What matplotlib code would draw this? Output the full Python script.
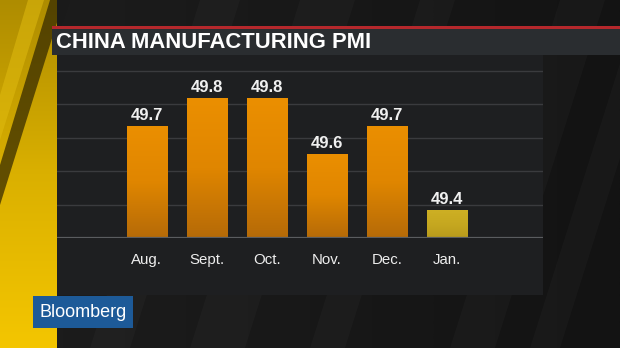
import numpy as np
import matplotlib
matplotlib.use("Agg")
import matplotlib.pyplot as plt
from matplotlib.patches import Rectangle, Polygon
from matplotlib.colors import LinearSegmentedColormap

# ---- data ----
title = "CHINA MANUFACTURING PMI"
months = ["Aug.", "Sept.", "Oct.", "Nov.", "Dec.", "Jan."]
pmi = [49.7, 49.8, 49.8, 49.6, 49.7, 49.4]
highlight = [False, False, False, False, False, True]
brand = "Bloomberg"

W, H = 620, 348
fig = plt.figure(figsize=(W / 100, H / 100), dpi=100)
fig.patch.set_facecolor("#151515")

# ---- background layer in pixel coordinates ----
bg = fig.add_axes([0, 0, 1, 1])
bg.set_xlim(0, W)
bg.set_ylim(H, 0)
bg.axis("off")

# dark backdrop gradient
dark = np.linspace(0, 1, 256).reshape(1, -1)
bg.imshow(dark, extent=[0, W, H, 0], aspect="auto",
          cmap=LinearSegmentedColormap.from_list("d", ["#1d1d1d", "#131313"]), zorder=0)
# subtle diagonal stripes on backdrop
for x0, w in [(200, 40), (300, 55), (420, 35), (560, 45), (640, 30)]:
    bg.add_patch(Polygon([(x0, 0), (x0 + w, 0), (x0 + w - 110, H), (x0 - 110, H)],
                         closed=True, facecolor="#ffffff", alpha=0.022, lw=0, zorder=1))

# yellow side band
ygrad = np.linspace(0, 1, 256).reshape(-1, 1)
bg.imshow(ygrad, extent=[0, 57, H, 0], aspect="auto",
          cmap=LinearSegmentedColormap.from_list("y", ["#ae8c00", "#dab000", "#f4c600"]), zorder=2)
bg.add_patch(Polygon([(28, 0), (44, 0), (0, 140), (0, 95)], closed=True,
                     facecolor="#e0bb10", alpha=0.55, lw=0, zorder=3))
bg.add_patch(Polygon([(50, 0), (64, 0), (0, 205), (0, 165)], closed=True,
                     facecolor="#2e2400", alpha=0.7, lw=0, zorder=3))
bg.add_patch(Polygon([(57, 0), (70, 0), (57, 40)], closed=True,
                     facecolor="#1a1a1a", lw=0, zorder=3))

# chart panel
bg.add_patch(Rectangle((57, 55), 486, 240, facecolor="#1e1f21", lw=0, zorder=4))
# title banner + red rule
bg.add_patch(Rectangle((52, 28), W - 52, 27, facecolor="#2a2d30", lw=0, zorder=5))
bg.add_patch(Rectangle((52, 26), W - 52, 2.5, facecolor="#b5282c", lw=0, zorder=6))
bg.text(56, 42, title, color="white", fontsize=15.8, fontweight="bold",
        family="Liberation Sans", va="center", ha="left", zorder=7)

# Bloomberg logo box
bg.add_patch(Rectangle((33, 296), 100, 32, facecolor="#1d5a98", lw=0, zorder=5))
bg.text(83, 312.5, brand, color="white", fontsize=13, family="Liberation Sans",
        va="center", ha="center", zorder=6)

# ---- bar chart axes ----
ax = fig.add_axes([57 / W, 1 - 238 / H, 486 / W, 181 / H])
ax.set_facecolor("none")
x = np.arange(len(months))
ymin = 49.3

grid_y = np.linspace(ymin, ymin + 5 * 0.1193, 6)[1:]
for gy in grid_y:
    ax.axhline(gy, color="#3a3b3e", lw=1.0, zorder=0)
ax.axhline(ymin, color="#5a5c5f", lw=1.6, zorder=3)

bars = ax.bar(x, [v - ymin for v in pmi], bottom=ymin, width=0.667,
              color="none", lw=0, zorder=2)
orange = LinearSegmentedColormap.from_list("o", ["#b56a08", "#e08600", "#eb8f00"])
gold = LinearSegmentedColormap.from_list("g", ["#b89a1c", "#c6a820", "#ceb024"])
grad = np.linspace(0, 1, 256).reshape(-1, 1)
for b, hl in zip(bars, highlight):
    bx, by = b.get_x(), b.get_y()
    bw, bh = b.get_width(), b.get_height()
    im = ax.imshow(grad, extent=[bx, bx + bw, by, by + bh], origin="lower",
                   aspect="auto", cmap=gold if hl else orange, zorder=2)
    im.set_clip_path(Rectangle((bx, by), bw, bh, transform=ax.transData))

for xi, v in zip(x, pmi):
    ax.annotate(f"{v:.1f}", (xi, v), xytext=(0, 2.5), textcoords="offset points",
                ha="center", va="bottom", color="#f0f0f0", fontsize=12,
                fontweight="bold", family="Liberation Sans", zorder=4)

ax.set_xticks(x)
ax.set_xticklabels(months, color="#eeeeee", fontsize=10.8, family="Liberation Sans")
ax.tick_params(axis="x", length=0, pad=11)
ax.set_yticks([])
for s in ax.spines.values():
    s.set_visible(False)
ax.set_xlim(-1.495, 6.605)
ax.set_ylim(ymin, ymin + 181 / 280)

fig.savefig("out.png", dpi=100, facecolor=fig.get_facecolor())
